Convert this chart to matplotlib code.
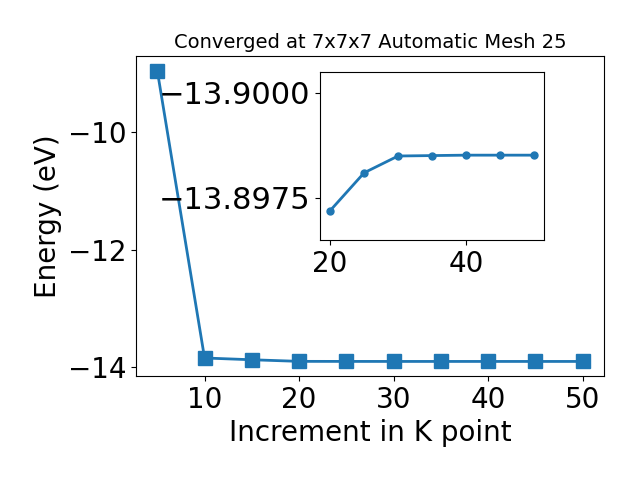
import matplotlib
matplotlib.use("Agg")
import matplotlib.pyplot as plt

# k-point increments and total energies
kpoints = [5, 10, 15, 20, 25, 30, 35, 40, 45, 50]
energy = [-8.96, -13.84, -13.87, -13.8972, -13.8981, -13.89850, -13.89851,
          -13.89852, -13.89852, -13.89852]

# zoomed region
inset_k = kpoints[3:]
inset_e = energy[3:]

fig = plt.figure(figsize=(6.4, 4.8), dpi=100)
ax = fig.add_axes([0.2125, 0.2167, 0.7313, 0.6667])
ax.plot(kpoints, energy, marker="s", markersize=10, linewidth=2)
ax.set_xlabel("Increment in K point", fontsize=20)
ax.set_ylabel("Energy (eV)", fontsize=20)
ax.set_title("Converged at 7x7x7 Automatic Mesh 25", fontsize=14)
ax.tick_params(labelsize=20)

# inset showing convergence detail
axin = fig.add_axes([0.5, 0.5, 0.35, 0.35])
axin.plot(inset_k, inset_e, marker="o", markersize=5, linewidth=2)
axin.set_ylim(-13.8965, -13.9005)
axin.set_yticks([-13.9000, -13.8975])
axin.set_xticks([20, 40])
axin.tick_params(axis="x", labelsize=20)
axin.tick_params(axis="y", labelsize=22)

fig.savefig("out.png")
